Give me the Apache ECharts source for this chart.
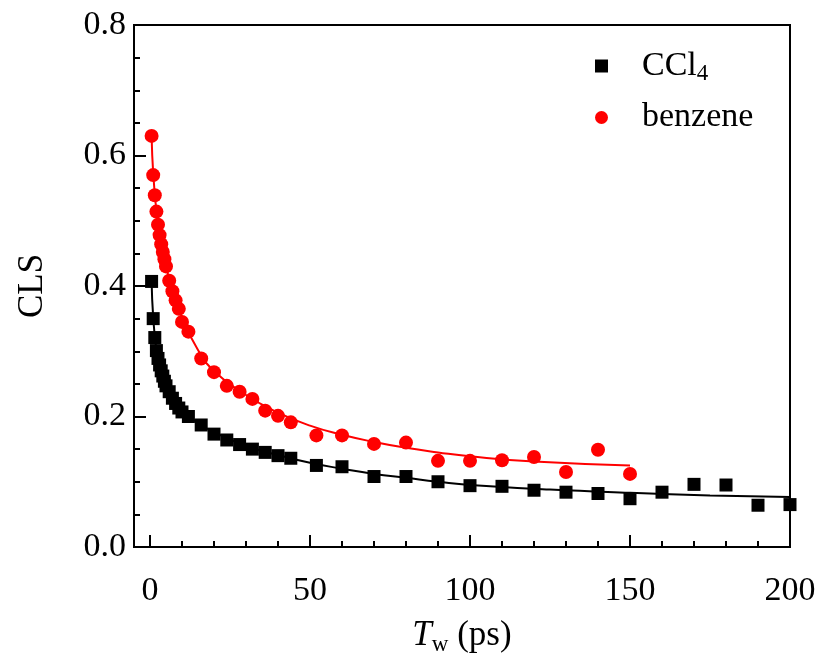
<!DOCTYPE html>
<html>
<head>
<meta charset="utf-8">
<script src="https://cdn.jsdelivr.net/npm/echarts@6/dist/echarts.min.js"></script>
<style>
  html, body { margin: 0; padding: 0; background: #fff; }
  #chart { width: 821px; height: 661px; }
</style>
</head>
<body>
<div id="chart"></div>
<script>
const FONT = '"Liberation Serif", "Times New Roman", serif';

// measured points (Tw in ps, CLS)
const tw = [0.5, 1, 1.5, 2, 2.5, 3, 3.5, 4, 4.5, 5, 6, 7, 8, 9, 10, 12, 16, 20, 24, 28, 32, 36, 40, 44, 52, 60, 70, 80, 90, 100, 110, 120, 130, 140, 150];
const benzene = [0.630, 0.570, 0.539, 0.514, 0.494, 0.478, 0.464, 0.452, 0.441, 0.430, 0.408, 0.392, 0.378, 0.365, 0.345, 0.330, 0.289, 0.268, 0.247, 0.238, 0.227, 0.209, 0.201, 0.191, 0.171, 0.171, 0.158, 0.160, 0.132, 0.132, 0.133, 0.138, 0.115, 0.149, 0.112];

const twCCl4 = [0.5, 1, 1.5, 2, 2.5, 3, 3.5, 4, 4.5, 5, 6, 7, 8, 9, 10, 12, 16, 20, 24, 28, 32, 36, 40, 44, 52, 60, 70, 80, 90, 100, 110, 120, 130, 140, 150, 160, 170, 180, 190, 200];
const ccl4 = [0.407, 0.350, 0.321, 0.301, 0.289, 0.279, 0.270, 0.262, 0.254, 0.247, 0.238, 0.228, 0.220, 0.213, 0.207, 0.200, 0.187, 0.173, 0.164, 0.157, 0.150, 0.145, 0.140, 0.136, 0.125, 0.123, 0.108, 0.108, 0.100, 0.094, 0.093, 0.087, 0.084, 0.082, 0.074, 0.084, 0.096, 0.095, 0.064, 0.065];

// fit curves
const fitBenzeneX = [0.5, 1, 2, 3, 5, 7, 10, 15, 20, 30, 40, 50, 60, 70, 80, 90, 100, 120, 150];
const fitBenzeneY = [0.630, 0.573, 0.515, 0.477, 0.430, 0.395, 0.352, 0.302, 0.270, 0.233, 0.206, 0.186, 0.172, 0.161, 0.152, 0.145, 0.139, 0.131, 0.125];
const fitCCl4X = [0.5, 1, 2, 3, 5, 7, 10, 15, 20, 30, 40, 50, 60, 70, 80, 90, 100, 125, 150, 175, 200];
const fitCCl4Y = [0.407, 0.352, 0.302, 0.280, 0.250, 0.230, 0.210, 0.190, 0.176, 0.155, 0.141, 0.129, 0.120, 0.112, 0.106, 0.100, 0.095, 0.088, 0.083, 0.079, 0.0765];

const xMajor = [0, 50, 100, 150, 200];
const xMinor = [10, 20, 30, 40, 60, 70, 80, 90, 110, 120, 130, 140, 160, 170, 180, 190];

const zip = (xs, ys) => xs.map((x, i) => [x, ys[i]]);

const chart = echarts.init(document.getElementById('chart'));

const option = {
  backgroundColor: '#fff',
  animation: false,
  grid: {
    left: 134,
    right: 31,
    top: 25,
    bottom: 110,
    show: true,
    borderColor: '#000',
    borderWidth: 2
  },
  legend: {
    data: ['CCl4', 'benzene'],
    orient: 'vertical',
    left: 590,
    top: 44,
    itemWidth: 13,
    itemHeight: 13,
    itemGap: 15,
    textStyle: {
      fontFamily: FONT,
      fontSize: 34,
      color: '#000',
      padding: [0, 0, 0, 29],
      rich: {
        sub: { fontFamily: FONT, fontSize: 23, color: '#000', verticalAlign: 'bottom', padding: [16, 0, 0, 0] }
      }
    },
    formatter: (name) => (name === 'CCl4' ? 'CCl{sub|4}' : name)
  },
  xAxis: [
    {
      type: 'value',
      min: -5,
      max: 200,
      splitLine: { show: false },
      axisLine: { show: true, onZero: false, lineStyle: { color: '#000', width: 2 } },
      axisTick: { show: true, inside: true, length: 12, customValues: xMajor, lineStyle: { color: '#000', width: 2 } },
      axisLabel: { customValues: xMajor, color: '#000', fontFamily: FONT, fontSize: 34, margin: 27 },
      name: '{i|T}{s|w} (ps)',
      nameLocation: 'middle',
      nameGap: 68,
      nameTextStyle: {
        fontFamily: FONT,
        fontSize: 35,
        color: '#000',
        rich: {
          i: { fontFamily: FONT, fontSize: 35, fontStyle: 'italic', color: '#000' },
          s: { fontFamily: FONT, fontSize: 23, color: '#000', verticalAlign: 'bottom', padding: [18, 0, 0, 0] }
        }
      }
    },
    {
      type: 'value',
      min: -5,
      max: 200,
      position: 'bottom',
      splitLine: { show: false },
      axisLine: { show: false },
      axisTick: { show: true, inside: true, length: 6, customValues: xMinor, lineStyle: { color: '#000', width: 2 } },
      axisLabel: { show: false }
    }
  ],
  yAxis: {
    type: 'value',
    min: 0,
    max: 0.8,
    interval: 0.2,
    splitLine: { show: false },
    axisLine: { show: true, onZero: false, lineStyle: { color: '#000', width: 2 } },
    axisTick: { show: true, inside: true, length: 12, lineStyle: { color: '#000', width: 2 } },
    minorTick: { show: true, splitNumber: 4, length: 6, lineStyle: { color: '#000', width: 2 } },
    axisLabel: { color: '#000', fontFamily: FONT, fontSize: 34, margin: 8, formatter: (v) => v.toFixed(1) },
    name: 'CLS',
    nameLocation: 'middle',
    nameGap: 84,
    nameTextStyle: { fontFamily: FONT, fontSize: 35, color: '#000' }
  },
  series: [
    {
      name: 'fitCCl4',
      type: 'line',
      data: zip(fitCCl4X, fitCCl4Y),
      smooth: true,
      showSymbol: false,
      lineStyle: { color: '#000', width: 2 },
      itemStyle: { color: '#000' },
      z: 1
    },
    {
      name: 'fitBenzene',
      type: 'line',
      data: zip(fitBenzeneX, fitBenzeneY),
      smooth: true,
      showSymbol: false,
      lineStyle: { color: '#ff0000', width: 2 },
      itemStyle: { color: '#ff0000' },
      z: 1
    },
    {
      name: 'CCl4',
      type: 'scatter',
      data: zip(twCCl4, ccl4),
      symbol: 'rect',
      symbolSize: 13,
      itemStyle: { color: '#000', opacity: 1 },
      z: 3
    },
    {
      name: 'benzene',
      type: 'scatter',
      data: zip(tw, benzene),
      symbol: 'circle',
      symbolSize: 14,
      itemStyle: { color: '#ff0000', opacity: 1 },
      z: 2
    }
  ]
};

chart.setOption(option);
</script>
</body>
</html>
